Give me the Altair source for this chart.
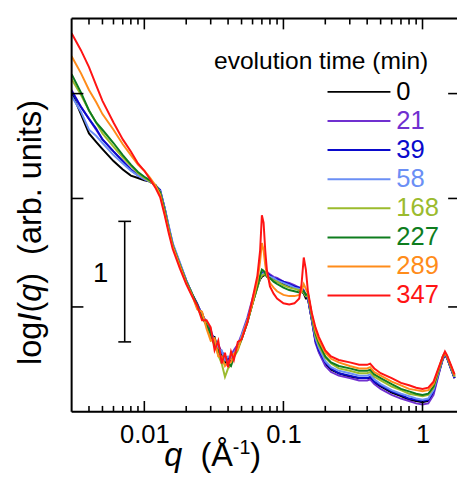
import altair as alt
import pandas as pd

FONT = "Liberation Sans"

# ---------------- data ----------------
q = [0.003, 0.0035, 0.004, 0.0045, 0.005, 0.006, 0.007, 0.008, 0.009, 0.010,
     0.011, 0.012, 0.013, 0.014, 0.015, 0.016, 0.018, 0.020, 0.022, 0.024,
     0.026, 0.028, 0.030, 0.032, 0.034, 0.036, 0.038, 0.040, 0.042, 0.044,
     0.047, 0.050, 0.055, 0.060, 0.065, 0.068, 0.070, 0.072, 0.074, 0.076,
     0.080, 0.085, 0.090, 0.100, 0.110, 0.120, 0.130, 0.135, 0.140, 0.145,
     0.150, 0.160, 0.170, 0.180, 0.200, 0.220, 0.250, 0.300, 0.350, 0.400,
     0.420, 0.450, 0.500, 0.600, 0.700, 0.800, 0.900, 1.000, 1.100, 1.200,
     1.300, 1.400, 1.450, 1.500, 1.600, 1.700]

series_names = ["0", "21", "39", "58", "168", "227", "289", "347"]
series_colors = ["#000000", "#7030d0", "#0a0acc", "#6b8ff5",
                 "#9bbb2d", "#0e7d1e", "#ff8c1a", "#ff1414"]

logI_0 = [2.65, 2.47, 2.31, 2.24, 2.18, 2.08, 2.01, 1.96, 1.94, 1.92, 1.91, 1.88, 1.82,
          1.68, 1.52, 1.38, 1.22, 1.08, 0.98, 0.87, 0.82, 0.71,
          0.63, 0.62, 0.50, 0.48, 0.41, 0.41, 0.42, 0.47, 0.54,
          0.61, 0.75, 0.90, 1.04,
          1.10, 1.12, 1.13, 1.14, 1.13, 1.11, 1.10, 1.08, 1.06, 1.04, 1.03, 1.01, 1.00, 0.98, 0.94,
          0.94, 0.76, 0.59, 0.50, 0.40, 0.35, 0.32, 0.29, 0.28, 0.28, 0.28, 0.24, 0.21, 0.16, 0.13,
          0.10, 0.09, 0.08, 0.09, 0.16, 0.31, 0.44, 0.47, 0.45, 0.36, 0.28]
logI_21 = [2.67, 2.53, 2.43, 2.34, 2.26, 2.16, 2.08, 2.01, 1.96, 1.93, 1.91, 1.88, 1.83,
           1.69, 1.53, 1.39, 1.23, 1.09, 0.98, 0.90, 0.80, 0.75,
           0.68, 0.58, 0.56, 0.49, 0.46, 0.42, 0.47, 0.51, 0.56,
           0.64, 0.78, 0.94, 1.08,
           1.12, 1.15, 1.16, 1.16, 1.16, 1.14, 1.12, 1.11, 1.08, 1.07, 1.05, 1.03, 1.03, 1.01, 0.97,
           0.94, 0.76, 0.57, 0.49, 0.38, 0.33, 0.30, 0.28, 0.26, 0.26, 0.27, 0.23, 0.19, 0.14, 0.11,
           0.09, 0.07, 0.06, 0.07, 0.14, 0.30, 0.44, 0.47, 0.45, 0.36, 0.28]
logI_39 = [2.66, 2.53, 2.43, 2.35, 2.26, 2.16, 2.08, 2.01, 1.96, 1.93, 1.91, 1.88, 1.84,
           1.69, 1.53, 1.39, 1.23, 1.09, 0.98, 0.89, 0.81, 0.73,
           0.66, 0.59, 0.54, 0.50, 0.46, 0.44, 0.46, 0.49, 0.54,
           0.62, 0.76, 0.91, 1.05,
           1.11, 1.15, 1.16, 1.16, 1.15, 1.13, 1.11, 1.10, 1.08, 1.06, 1.04, 1.03, 1.02, 1.00, 0.96,
           0.95, 0.77, 0.59, 0.51, 0.41, 0.36, 0.32, 0.30, 0.28, 0.28, 0.29, 0.25, 0.22, 0.17, 0.14,
           0.11, 0.10, 0.09, 0.10, 0.17, 0.32, 0.44, 0.47, 0.45, 0.36, 0.28]
logI_58 = [2.62, 2.49, 2.34, 2.29, 2.23, 2.13, 2.06, 2.00, 1.96, 1.93, 1.91, 1.88, 1.83,
           1.69, 1.54, 1.40, 1.24, 1.09, 0.98, 0.88, 0.81, 0.72,
           0.64, 0.60, 0.52, 0.51, 0.43, 0.46, 0.45, 0.49, 0.54,
           0.63, 0.76, 0.92, 1.06,
           1.11, 1.14, 1.15, 1.15, 1.14, 1.12, 1.11, 1.09, 1.07, 1.05, 1.03, 1.02, 1.01, 0.99, 0.96,
           0.96, 0.78, 0.61, 0.53, 0.42, 0.37, 0.34, 0.32, 0.30, 0.30, 0.31, 0.27, 0.23, 0.18, 0.15,
           0.13, 0.11, 0.10, 0.11, 0.18, 0.32, 0.45, 0.48, 0.46, 0.37, 0.29]
logI_168 = [2.76, 2.63, 2.50, 2.40, 2.31, 2.20, 2.11, 2.04, 1.98, 1.94, 1.91, 1.88, 1.82,
            1.67, 1.51, 1.38, 1.22, 1.08, 0.98, 0.86, 0.79, 0.74,
            0.61, 0.56, 0.47, 0.40, 0.29, 0.36, 0.39, 0.45, 0.51,
            0.60, 0.74, 0.90, 1.03,
            1.11, 1.13, 1.14, 1.14, 1.12, 1.11, 1.09, 1.08, 1.05, 1.03, 1.02, 1.01, 1.00, 0.99, 0.96,
            0.97, 0.79, 0.63, 0.55, 0.45, 0.40, 0.36, 0.34, 0.32, 0.32, 0.33, 0.29, 0.26, 0.21, 0.18,
            0.15, 0.14, 0.13, 0.14, 0.20, 0.33, 0.45, 0.48, 0.46, 0.37, 0.29]
logI_227 = [2.80, 2.65, 2.50, 2.40, 2.34, 2.23, 2.13, 2.05, 1.99, 1.95, 1.92, 1.88, 1.82,
            1.67, 1.51, 1.38, 1.22, 1.08, 0.98, 0.89, 0.78, 0.72,
            0.65, 0.55, 0.51, 0.45, 0.39, 0.40, 0.38, 0.46, 0.53,
            0.60, 0.74, 0.90, 1.04,
            1.13, 1.18, 1.17, 1.15, 1.12, 1.11, 1.08, 1.06, 1.03, 1.01, 1.00, 0.99, 1.00, 1.00, 0.97,
            0.98, 0.80, 0.65, 0.57, 0.46, 0.41, 0.38, 0.36, 0.34, 0.34, 0.35, 0.31, 0.28, 0.23, 0.19,
            0.17, 0.15, 0.14, 0.15, 0.21, 0.34, 0.46, 0.49, 0.46, 0.38, 0.30]
logI_289 = [2.95, 2.81, 2.67, 2.57, 2.47, 2.34, 2.22, 2.13, 2.05, 2.00, 1.94, 1.88, 1.80,
            1.65, 1.50, 1.37, 1.21, 1.07, 0.97, 0.85, 0.83, 0.69,
            0.59, 0.61, 0.46, 0.46, 0.38, 0.41, 0.41, 0.48, 0.52,
            0.61, 0.75, 0.90, 1.08,
            1.25, 1.40, 1.34, 1.22, 1.14, 1.07, 1.03, 1.00, 0.97, 0.96, 0.96, 0.97, 1.00, 1.06, 1.02,
            0.98, 0.81, 0.67, 0.59, 0.49, 0.44, 0.41, 0.38, 0.36, 0.36, 0.37, 0.33, 0.30, 0.25, 0.22,
            0.19, 0.18, 0.17, 0.18, 0.23, 0.35, 0.46, 0.49, 0.46, 0.38, 0.30]
logI_347 = [3.14, 3.00, 2.86, 2.71, 2.58, 2.40, 2.26, 2.16, 2.06, 2.00, 1.93, 1.86, 1.78,
            1.63, 1.48, 1.35, 1.19, 1.06, 0.96, 0.88, 0.76, 0.76,
            0.70, 0.51, 0.59, 0.40, 0.49, 0.37, 0.50, 0.43, 0.58,
            0.60, 0.74, 0.94, 1.13,
            1.34, 1.63, 1.57, 1.34, 1.18, 1.04, 0.98, 0.94, 0.90, 0.89, 0.90, 0.94, 1.06, 1.28, 1.18,
            1.00, 0.82, 0.70, 0.62, 0.51, 0.46, 0.43, 0.41, 0.39, 0.39, 0.40, 0.36, 0.32, 0.28, 0.24,
            0.22, 0.20, 0.19, 0.20, 0.25, 0.36, 0.46, 0.50, 0.47, 0.39, 0.31]

all_series = [logI_0, logI_21, logI_39, logI_58, logI_168, logI_227, logI_289, logI_347]

x_major_ticks = [0.01, 0.1, 1]
x_minor_ticks = [0.004, 0.005, 0.006, 0.007, 0.008, 0.009,
                 0.02, 0.03, 0.04, 0.05, 0.06, 0.07, 0.08, 0.09,
                 0.2, 0.3, 0.4, 0.5, 0.6, 0.7, 0.8, 0.9]
y_ticks = [0.87, 1.77, 2.64]
q_domain = [0.003, 1.77]
y_domain = [0, 3.2626]
bar_low = 0.58
bar_len = 1
legend_title = "evolution time (min)"

# ---------------- layout constants ----------------
W, H = 392, 400
TITLE_FS = 33
LABEL_FS = 26

rows = []
for name, vals in zip(series_names, all_series):
    for qq, vv in zip(q, vals):
        rows.append({"q": qq, "v": vv, "series": name})
df = pd.DataFrame(rows)

xscale = alt.Scale(type="log", domain=q_domain, nice=False)
xaxis = alt.Axis(values=x_major_ticks, format="~g", ticks=False, tickSize=0,
                 domain=False, grid=False, labelFont=FONT, labelFontSize=LABEL_FS,
                 labelColor="black", labelPadding=10, title=None, labelFlush=False)
yscale = alt.Scale(domain=y_domain, nice=False, zero=False)
cscale = alt.Scale(domain=series_names, range=series_colors)


def X(field="q"):
    return alt.X(f"{field}:Q", scale=xscale, axis=xaxis)


def Y(field="v"):
    return alt.Y(f"{field}:Q", scale=yscale, axis=None)


base = alt.Chart(df)
curves = []
for name in series_names:
    curves.append(
        base.transform_filter(alt.FieldEqualPredicate(field="series", equal=name))
        .mark_line(strokeWidth=2, clip=True)
        .encode(x=X(), y=Y(), color=alt.Color("series:N", scale=cscale, legend=None))
    )

one = pd.DataFrame({"a": [0]})
frame = [
    alt.Chart(one).mark_rule(color="black", strokeWidth=2).encode(
        x=alt.value(0), y=alt.value(0), y2=alt.value(H)),
    alt.Chart(one).mark_rule(color="black", strokeWidth=2).encode(
        x=alt.value(0), x2=alt.value(W), y=alt.value(0)),
    alt.Chart(one).mark_rule(color="black", strokeWidth=2).encode(
        x=alt.value(0), x2=alt.value(W), y=alt.value(H)),
]

maj = pd.DataFrame({"q": x_major_ticks})
mnr = pd.DataFrame({"q": x_minor_ticks})
ticks = [
    alt.Chart(maj).mark_rule(color="black", strokeWidth=1.6).encode(
        x=X(), y=alt.value(H), y2=alt.value(H - 11)),
    alt.Chart(maj).mark_rule(color="black", strokeWidth=1.6).encode(
        x=X(), y=alt.value(0), y2=alt.value(11)),
    alt.Chart(mnr).mark_rule(color="black", strokeWidth=1.6).encode(
        x=X(), y=alt.value(H), y2=alt.value(H - 6)),
    alt.Chart(mnr).mark_rule(color="black", strokeWidth=1.6).encode(
        x=X(), y=alt.value(0), y2=alt.value(6)),
]
ydf = pd.DataFrame({"v": y_ticks})
ticks += [
    alt.Chart(ydf).mark_rule(color="black", strokeWidth=1.6).encode(
        y=Y(), x=alt.value(0), x2=alt.value(12)),
    alt.Chart(ydf).mark_rule(color="black", strokeWidth=1.6).encode(
        y=Y(), x=alt.value(W - 9), x2=alt.value(W)),
]

# scale bar
bdf = pd.DataFrame({"v0": [bar_low], "v1": [bar_low + bar_len]})
cdf = pd.DataFrame({"v": [bar_low, bar_low + bar_len]})
ldf1 = pd.DataFrame({"v": [bar_low + bar_len / 2], "t": [str(bar_len)]})
scalebar = [
    alt.Chart(bdf).mark_rule(color="black", strokeWidth=1.6).encode(
        x=alt.value(54), y=Y("v0"), y2="v1:Q"),
    alt.Chart(cdf).mark_rule(color="black", strokeWidth=1.6).encode(
        x=alt.value(47.5), x2=alt.value(60.5), y=Y()),
    alt.Chart(ldf1).mark_text(font=FONT, fontSize=28, align="center",
                              baseline="middle", dy=-8, color="black").encode(
        x=alt.value(29.5), y=Y(), text="t:N"),
]


def txt(s, x, y, size=TITLE_FS, italic=False, angle=0, align="left", baseline="alphabetic"):
    kw = dict(font=FONT, fontSize=size, align=align, baseline=baseline, color="black")
    if italic:
        kw["fontStyle"] = "italic"
    if angle:
        kw["angle"] = angle
    return alt.Chart(pd.DataFrame({"t": [s]})).mark_text(**kw).encode(
        x=alt.value(x), y=alt.value(y), text="t:N")


# y title:  log I(q)  (arb. units)   (rotated)
yx = -30.7
y0 = 352.3
f = TITLE_FS / 1000.0
ytitle = [
    txt("log", yx, y0, angle=270),
    txt("I", yx, y0 - 1334 * f, italic=True, angle=270),
    txt("(", yx, y0 - 1612 * f, angle=270),
    txt("q", yx, y0 - 1945 * f, italic=True, angle=270),
    txt(")", yx, y0 - 2501 * f, angle=270),
    txt("(arb. units)", yx, y0 - 3390 * f, angle=270),
]

# x title:  q  (Å^-1)
x0 = 94.3
xb = 455.5
xtitle = [
    txt("q", x0, xb, italic=True),
    txt("(Å", x0 + 1112 * f, xb),
    txt("-1", x0 + 2112 * f, xb - 13, size=20),
    txt(")", x0 + 2112 * f + 17.8, xb),
]

ltitle = [txt(legend_title, 253.8, 51.3, size=25, align="center")]

main = alt.layer(*curves, *frame, *ticks, *scalebar, *ytitle, *xtitle, *ltitle)

leg_df = pd.DataFrame({"series": series_names, "rank": list(range(len(series_names)))})
leg_y = alt.Y("rank:Q", scale=alt.Scale(domain=[0, len(series_names) - 1],
                                        range=[74.6, 281.8]), axis=None)
legend = alt.layer(
    alt.Chart(leg_df).mark_rule(strokeWidth=2).encode(
        x=alt.value(260.3), x2=alt.value(324.3), y=leg_y,
        color=alt.Color("series:N", scale=cscale, legend=None)),
    alt.Chart(leg_df).mark_text(font=FONT, fontSize=LABEL_FS, align="left",
                                baseline="middle").encode(
        x=alt.value(330.3), y=leg_y, text="series:N",
        color=alt.Color("series:N", scale=cscale, legend=None)),
)

chart = (
    alt.layer(main, legend)
    .resolve_scale(y="independent")
    .properties(width=W, height=H,
                autosize=alt.AutoSizeParams(type="none"),
                padding={"left": 64.7, "top": 6.7, "right": 0, "bottom": 64})
    .configure_view(stroke=None)
    .configure(background="white")
)

chart.save("out.html", embed_options={"renderer": "svg", "actions": False})
